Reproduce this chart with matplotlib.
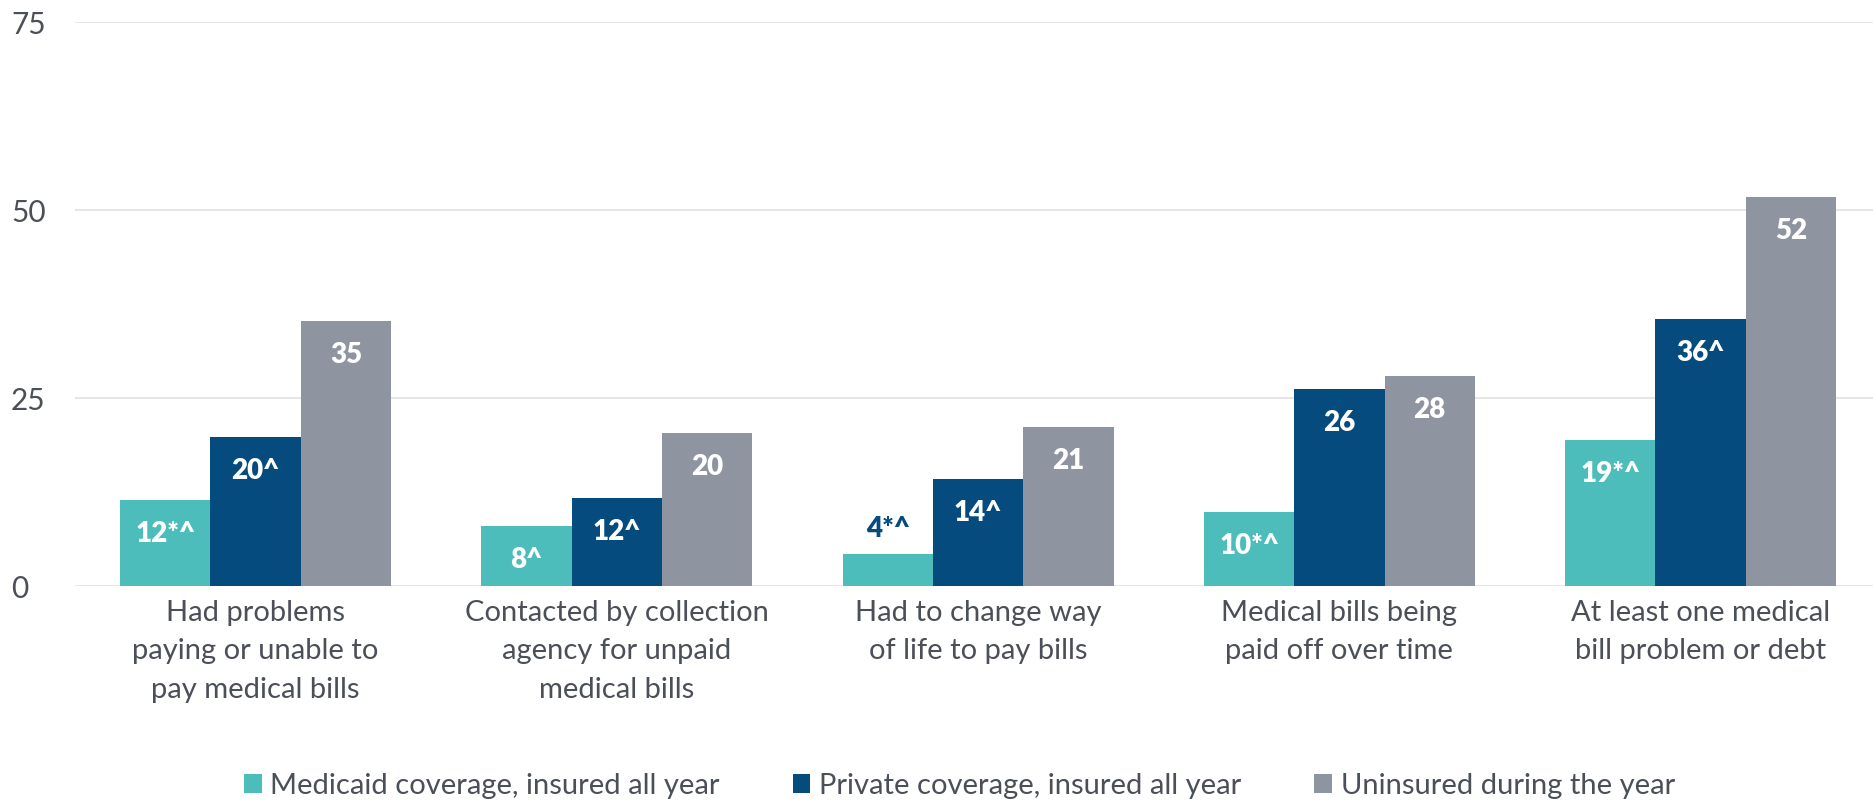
import matplotlib.pyplot as plt
import numpy as np
from matplotlib.patches import Patch

plt.rcParams['font.family'] = ['Lato', 'DejaVu Sans']

# data (percent)
categories = [
    "Had problems\npaying or unable to\npay medical bills",
    "Contacted by collection\nagency for unpaid\nmedical bills",
    "Had to change way\nof life to pay bills",
    "Medical bills being\npaid off over time",
    "At least one medical\nbill problem or debt",
]
series_names = ["Medicaid coverage, insured all year",
                "Private coverage, insured all year",
                "Uninsured during the year"]
medicaid = [11.5, 8.0, 4.2, 9.8, 19.4]
private = [19.8, 11.7, 14.2, 26.2, 35.5]
uninsured = [35.3, 20.4, 21.2, 27.9, 51.7]
medicaid_labels = ["12*^", "8^", "4*^", "10*^", "19*^"]
private_labels = ["20^", "12^", "14^", "26", "36^"]
uninsured_labels = ["35", "20", "21", "28", "52"]
yticks = [0, 25, 50, 75]

colors = ['#4dbdbc', '#054b7d', '#8f95a0']
text_color = '#4b4f58'

fig = plt.figure(figsize=(18.74, 8.02), dpi=100)
ax = fig.add_axes([75 / 1874, 216 / 802, 1 - 75 / 1874, 564 / 802])

x = np.arange(len(categories))
w = 0.25
all_vals = [medicaid, private, uninsured]
all_labels = [medicaid_labels, private_labels, uninsured_labels]

for i, (vals, labs) in enumerate(zip(all_vals, all_labels)):
    pos = x + (i - 1) * w
    bars = ax.bar(pos, vals, width=w, color=colors[i], zorder=3,
                  label=series_names[i])
    for b, v, lab in zip(bars, vals, labs):
        cx = b.get_x() + b.get_width() / 2
        if v < 6:
            # too short, put label above the bar
            ax.annotate(lab, (cx, v), xytext=(0, 18), textcoords='offset points',
                        ha='center', va='center', fontsize=20, fontweight='heavy',
                        color=colors[1], zorder=4)
        else:
            ax.annotate(lab, (cx, v), xytext=(0, -24.5), textcoords='offset points',
                        ha='center', va='center', fontsize=20, fontweight='heavy',
                        color='white', zorder=4)

ax.set_ylim(0, 75)
ax.set_xlim(-0.5, 4.48)
ax.set_yticks(yticks)
ax.set_yticklabels([str(t) for t in yticks], ha='left')
ax.tick_params(axis='y', length=0, pad=46, labelsize=21.5, labelcolor=text_color)
ax.set_xticks(x)
ax.set_xticklabels(categories, linespacing=1.6)
ax.tick_params(axis='x', length=0, pad=10, labelsize=21, labelcolor=text_color)
ax.grid(axis='y', color='#e6e6e6', linewidth=1.5, zorder=0)
for s in ax.spines.values():
    s.set_visible(False)

handles = [Patch(facecolor=c, edgecolor='none') for c in colors]
leg = fig.legend(handles, series_names, loc='center', bbox_to_anchor=(0.512, 0.02),
                 ncol=3, frameon=False, fontsize=21, handlelength=0.6,
                 handleheight=0.6, handletextpad=0.3, columnspacing=2.5,
                 borderaxespad=0)
for t in leg.get_texts():
    t.set_color(text_color)

fig.savefig('out.png', dpi=100)
